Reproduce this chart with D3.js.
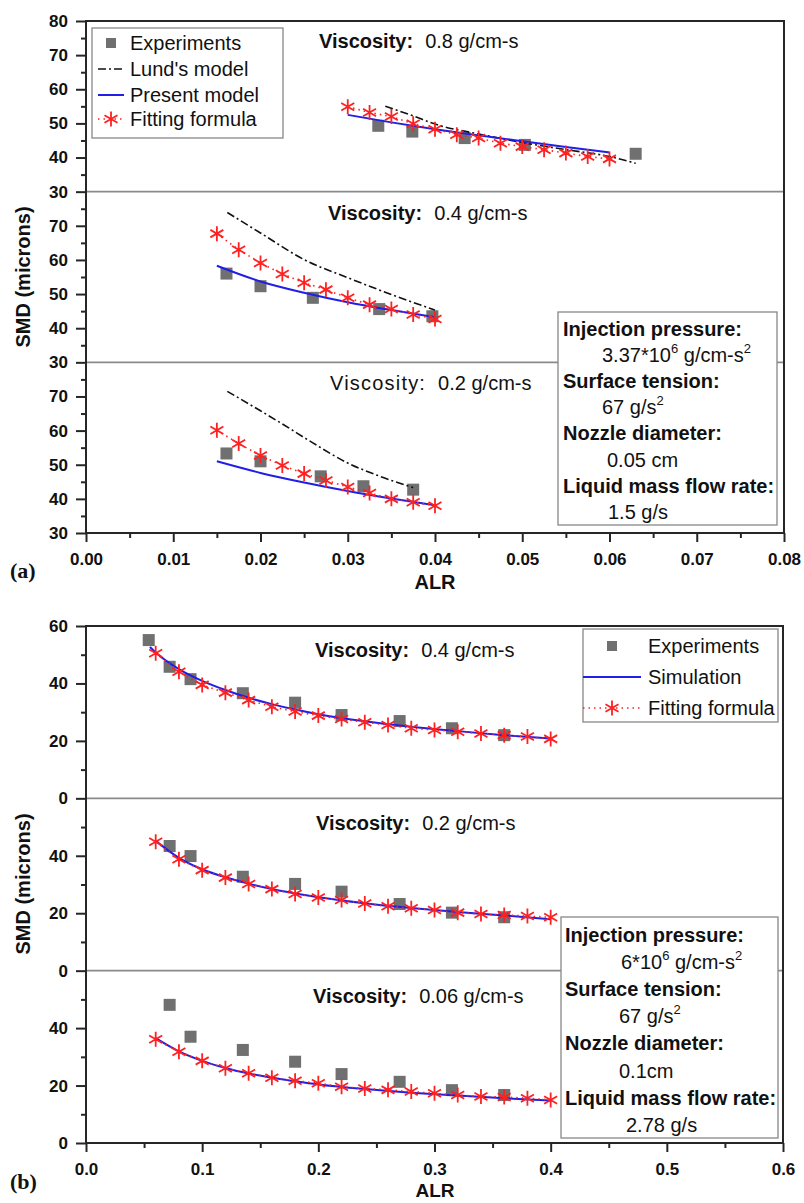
<!DOCTYPE html>
<html><head><meta charset="utf-8">
<script src="https://cdn.jsdelivr.net/npm/d3@7"></script>
<style>
body{margin:0;background:#fff}
svg{display:block;font-family:"Liberation Sans",Arial,Helvetica,sans-serif}
</style>
</head><body>
<svg id="c" width="804" height="1203"></svg>
<script>
// ---------------- DATA : panel (a) ----------------
const aXTicks = [0,0.01,0.02,0.03,0.04,0.05,0.06,0.07,0.08];
const aXMinor = [0.005,0.015,0.025,0.035,0.045,0.055,0.065,0.075];
const aYTicksTop = [30,40,50,60,70,80];
const aYTicks = [30,40,50,60,70];
const aYMinor = [35,45,55,65,75];
const aViscosity = ["0.8 g/cm-s","0.4 g/cm-s","0.2 g/cm-s"];

// viscosity 0.8
const a08ExpX = [0.0335,0.0374,0.0434,0.0503,0.063];
const a08ExpY = [49.3,47.6,45.7,43.7,41.1];
const a08LundX = [0.0343,0.0375,0.040,0.045,0.050,0.055,0.060,0.063];
const a08LundY = [55,52.2,49.8,46.9,44.4,42.3,40.3,38.3];
const a08ModelX = [0.030,0.035,0.040,0.045,0.050,0.055,0.060];
const a08ModelY = [52.5,50.3,48.3,46.5,44.8,43.1,41.5];
const a08FitX = [0.030,0.0325,0.035,0.0375,0.040,0.0425,0.045,0.0475,0.050,0.0525,0.055,0.0575,0.060];
const a08FitY = [54.9,53.2,52.0,49.9,48.3,46.7,45.7,44.2,43.2,42.3,41.3,40.3,39.6];
// viscosity 0.4
const a04ExpX = [0.0161,0.020,0.026,0.0336,0.0397];
const a04ExpY = [56.0,52.3,48.9,45.6,43.5];
const a04LundX = [0.0162,0.020,0.025,0.030,0.0356,0.040];
const a04LundY = [73.9,67.9,60.1,54.8,49.3,45.3];
const a04ModelX = [0.015,0.020,0.025,0.030,0.035,0.040];
const a04ModelY = [58.3,53.7,50.4,47.6,45.3,43.2];
const a04FitX = [0.015,0.0175,0.020,0.0225,0.025,0.0275,0.030,0.0325,0.035,0.0375,0.040];
const a04FitY = [67.7,63.0,59.1,55.9,53.3,51.3,48.9,46.9,45.6,44.0,42.7];
// viscosity 0.2
const a02ExpX = [0.0161,0.020,0.0269,0.0318,0.0375];
const a02ExpY = [53.3,51.0,46.6,43.7,42.7];
const a02LundX = [0.0162,0.020,0.0226,0.026,0.030,0.0337,0.0375];
const a02LundY = [71.5,65.8,61.8,56.4,50.5,46.6,43.3];
const a02ModelX = [0.015,0.020,0.025,0.030,0.035,0.040];
const a02ModelY = [51.0,47.6,44.8,42.3,40.1,38.1];
const a02FitX = [0.015,0.0175,0.020,0.0225,0.025,0.0275,0.030,0.0325,0.035,0.0375,0.040];
const a02FitY = [60.1,56.2,52.7,49.8,47.4,45.4,43.5,41.7,40.0,39.0,38.0];

// ---------------- DATA : panel (b) ----------------
const bXTicks = [0,0.1,0.2,0.3,0.4,0.5,0.6];
const bXMinor = [0.05,0.15,0.25,0.35,0.45,0.55];
const bYTicksTop = [0,20,40,60];
const bYTicks = [0,20,40];
const bYMinor = [10,30,50];
const bViscosity = ["0.4 g/cm-s","0.2 g/cm-s","0.06 g/cm-s"];

const b04ExpX = [0.054,0.072,0.09,0.135,0.18,0.22,0.27,0.315,0.36];
const b04ExpY = [55.1,45.8,41.5,36.6,33.3,29.0,26.9,24.4,22.0];
const b02ExpX = [0.072,0.09,0.135,0.18,0.22,0.27,0.315,0.36];
const b02ExpY = [43.4,39.9,32.7,30.2,27.5,23.2,20.2,18.6];
const b006ExpX = [0.072,0.09,0.135,0.18,0.22,0.27,0.315,0.36];
const b006ExpY = [48.1,37.0,32.4,28.3,24.0,21.3,18.4,16.7];

const bFitX = [0.06,0.08,0.10,0.12,0.14,0.16,0.18,0.20,0.22,0.24,0.26,0.28,0.30,0.32,0.34,0.36,0.38,0.40];
const b04FitY = [50.5,44.1,39.5,36.8,34.2,31.9,30.2,28.8,27.6,26.5,25.5,24.4,23.8,23.2,22.6,22.0,21.5,20.7];
const b02FitY = [44.9,38.8,35.0,32.4,30.2,28.4,26.7,25.5,24.6,23.4,22.4,21.7,21.1,20.2,19.7,19.4,19.0,18.6];
const b006FitY = [36.1,31.8,28.6,26.0,24.3,22.7,21.7,20.8,19.6,19.0,18.5,17.9,17.3,16.7,16.2,16.0,15.6,15.0];

const b04SimX = [0.055,0.06,0.08,0.10,0.12,0.14,0.16,0.18,0.20,0.24,0.28,0.32,0.36,0.40];
const b04SimY = [52.7,50.8,45.0,40.9,37.7,35.0,32.8,30.9,29.3,26.8,24.9,23.4,22.0,20.8];
const b02SimX = [0.06,0.08,0.10,0.12,0.14,0.16,0.18,0.20,0.24,0.28,0.32,0.36,0.40];
const b02SimY = [45.2,39.3,35.3,32.5,30.3,28.4,26.9,25.6,23.5,21.8,20.4,19.2,17.9];
const b006SimX = [0.06,0.08,0.10,0.12,0.14,0.16,0.18,0.20,0.24,0.28,0.32,0.36,0.40];
const b006SimY = [36.5,31.9,28.6,26.1,24.2,22.7,21.5,20.4,18.8,17.5,16.5,15.6,14.8];

// legend / info texts
const aLegend = ["Experiments","Lund's model","Present model","Fitting formula"];
const bLegend = ["Experiments","Simulation","Fitting formula"];
const infoLabels = ["Injection pressure:","Surface tension:","Nozzle diameter:","Liquid mass flow rate:"];
const aInfoValues = [["3.37*10","6"," g/cm-s","2"],["67 g/s","2"],["0.05 cm"],["1.5 g/s"]];
const bInfoValues = [["6*10","6"," g/cm-s","2"],["67 g/s","2"],["0.1cm"],["2.78 g/s"]];

// ---------------- DRAWING ----------------
const svg = d3.select('#c');
const C = {exp:'#707070', model:'#1f1fe6', fit:'#ff2020', lund:'#111', axis:'#262626', div:'#8a8a8a'};
const zip = (xs, ys) => xs.map((v,i)=>[v,ys[i]]);

function starPath(r){
  let p='';
  for(let k=0;k<3;k++){
    const a = Math.PI/2 + k*Math.PI/3;
    const dx = r*Math.cos(a), dy = r*Math.sin(a);
    p += `M${(-dx).toFixed(2)},${(-dy).toFixed(2)}L${dx.toFixed(2)},${dy.toFixed(2)}`;
  }
  return p;
}

function drawSeries(g, x, y, s){
  const line = d3.line().x(d=>x(d[0])).y(d=>y(d[1])).curve(d3.curveMonotoneX);
  g.selectAll(null).data(zip(s.expX, s.expY)).join('rect')
    .attr('x', d=>x(d[0])-6).attr('y', d=>y(d[1])-6).attr('width',12).attr('height',12)
    .attr('fill', C.exp);
  if(s.lundX){
    g.append('path').datum(zip(s.lundX, s.lundY)).attr('d', line)
      .attr('fill','none').attr('stroke',C.lund).attr('stroke-width',1.6)
      .attr('stroke-dasharray','8,3,2,3');
  }
  g.append('path').datum(zip(s.modelX, s.modelY)).attr('d', line)
    .attr('fill','none').attr('stroke',C.model).attr('stroke-width',2);
  g.append('path').datum(zip(s.fitX, s.fitY)).attr('d', d3.line().x(d=>x(d[0])).y(d=>y(d[1])))
    .attr('fill','none').attr('stroke',C.fit).attr('stroke-width',1.6)
    .attr('stroke-dasharray','1.5,4');
  g.selectAll(null).data(zip(s.fitX, s.fitY)).join('path')
    .attr('transform', d=>`translate(${x(d[0])},${y(d[1])})`)
    .attr('d', starPath(7.5)).attr('fill','none').attr('stroke',C.fit).attr('stroke-width',1.8);
}

function styleAxis(g, size){
  g.select('.domain').remove();
  g.selectAll('.tick line').attr('stroke',C.axis).attr('stroke-width',2);
  g.selectAll('.tick text').attr('font-family','"Liberation Sans",Arial,sans-serif')
    .attr('font-size',size).attr('font-weight','bold').attr('fill','#111');
}

function drawPanel(cfg){
  const {x, left, right, top, bottom, yDomain, subs, xTicks, xMinor, xFmt, yTop, yTicks, yMinor, tickPad} = cfg;
  const h = (bottom-top)/subs.length;
  const g = svg.append('g');
  const ys = subs.map((s,i)=> d3.scaleLinear().domain(yDomain).range([top+(i+1)*h, top+i*h]));
  for(let i=1;i<subs.length;i++){
    g.append('line').attr('x1',left).attr('x2',right).attr('y1',top+i*h).attr('y2',top+i*h)
      .attr('stroke',C.div).attr('stroke-width',1.6);
  }
  subs.forEach((s,i)=> drawSeries(g.append('g'), x, ys[i], s));
  subs.forEach((s,i)=>{
    const t = g.append('text').attr('x', s.lx).attr('y', s.ly).attr('font-size',20).attr('fill','#111');
    if(s.light){
      t.append('tspan').attr('letter-spacing',1.2).text('Viscosity:');
    } else {
      t.append('tspan').attr('font-weight','bold').text('Viscosity:');
    }
    t.append('tspan').attr('dx',12).text(s.visc);
  });
  ys.forEach((y,i)=>{
    const ax = g.append('g').attr('transform',`translate(${left},0)`)
      .call(d3.axisLeft(y).tickValues(i===0?yTop:yTicks).tickSize(10).tickPadding(8).tickFormat(d3.format('d')));
    styleAxis(ax, 17);
    const mi = g.append('g').attr('transform',`translate(${left},0)`)
      .call(d3.axisLeft(y).tickValues(yMinor).tickSize(5).tickFormat(''));
    styleAxis(mi, 17);
  });
  const xa = g.append('g').attr('transform',`translate(0,${bottom})`)
    .call(d3.axisBottom(x).tickValues(xTicks).tickSize(9).tickPadding(tickPad).tickFormat(d3.format(xFmt)));
  styleAxis(xa, 17);
  const xm = g.append('g').attr('transform',`translate(0,${bottom})`)
    .call(d3.axisBottom(x).tickValues(xMinor).tickSize(5).tickFormat(''));
  styleAxis(xm, 17);
  g.append('rect').attr('x',left).attr('y',top).attr('width',right-left).attr('height',bottom-top)
    .attr('fill','none').attr('stroke',C.axis).attr('stroke-width',2);
  return g;
}

function legendSymbol(g, kind, x0, x1, y){
  const cx = (x0+x1)/2;
  if(kind==='exp'){
    g.append('rect').attr('x',cx-5).attr('y',y-5).attr('width',10).attr('height',10).attr('fill',C.exp);
  } else if(kind==='lund'){
    g.append('line').attr('x1',x0).attr('x2',x1).attr('y1',y).attr('y2',y)
      .attr('stroke',C.lund).attr('stroke-width',1.6).attr('stroke-dasharray','8,3,2,3');
  } else if(kind==='model'){
    g.append('line').attr('x1',x0).attr('x2',x1).attr('y1',y).attr('y2',y)
      .attr('stroke',C.model).attr('stroke-width',2);
  } else {
    g.append('line').attr('x1',x0).attr('x2',x1).attr('y1',y).attr('y2',y)
      .attr('stroke',C.fit).attr('stroke-width',1.6).attr('stroke-dasharray','1.5,4');
    g.append('path').attr('transform',`translate(${cx},${y})`).attr('d',starPath(7.5))
      .attr('fill','none').attr('stroke',C.fit).attr('stroke-width',1.8);
  }
}

function drawLegend(box, items, kinds, textX, symX0, symX1, ys){
  const g = svg.append('g');
  g.append('rect').attr('x',box[0]).attr('y',box[1]).attr('width',box[2]-box[0]).attr('height',box[3]-box[1])
    .attr('fill','#fff').attr('stroke','#888').attr('stroke-width',1.3);
  items.forEach((t,i)=>{
    legendSymbol(g, kinds[i], symX0, symX1, ys[i]);
    g.append('text').attr('x',textX).attr('y',ys[i]+7).attr('font-size',20).attr('fill','#111').text(t);
  });
}

function drawInfo(box, labels, values, labelX, valueXs, y0, step){
  const g = svg.append('g');
  g.append('rect').attr('x',box[0]).attr('y',box[1]).attr('width',box[2]-box[0]).attr('height',box[3]-box[1])
    .attr('fill','#fff').attr('stroke','#888').attr('stroke-width',1.3);
  labels.forEach((lab,i)=>{
    g.append('text').attr('x',labelX).attr('y',y0+2*i*step).attr('font-size',20).attr('font-weight','bold')
      .attr('fill','#111').text(lab);
    const t = g.append('text').attr('x',valueXs[i]).attr('y',y0+(2*i+1)*step).attr('font-size',20).attr('fill','#111');
    values[i].forEach((seg,k)=>{
      const sp = t.append('tspan').text(seg);
      if(k%2===1){ sp.attr('font-size',13).attr('dy',-9); }
      else if(k>0){ sp.attr('dy',9); }
    });
  });
}

// ---------- panel (a) ----------
const xA = d3.scaleLinear().domain([0,0.08]).range([86,784]);
drawPanel({
  x:xA, left:86, right:784, top:21, bottom:533, yDomain:[30,80],
  xTicks:aXTicks, xMinor:aXMinor, xFmt:'.2f', yTop:aYTicksTop, yTicks:aYTicks, yMinor:aYMinor, tickPad:11,
  subs:[
    {expX:a08ExpX,expY:a08ExpY,lundX:a08LundX,lundY:a08LundY,modelX:a08ModelX,modelY:a08ModelY,fitX:a08FitX,fitY:a08FitY,visc:aViscosity[0],lx:319,ly:48},
    {expX:a04ExpX,expY:a04ExpY,lundX:a04LundX,lundY:a04LundY,modelX:a04ModelX,modelY:a04ModelY,fitX:a04FitX,fitY:a04FitY,visc:aViscosity[1],lx:328,ly:220},
    {expX:a02ExpX,expY:a02ExpY,lundX:a02LundX,lundY:a02LundY,modelX:a02ModelX,modelY:a02ModelY,fitX:a02FitX,fitY:a02FitY,visc:aViscosity[2],lx:330,ly:390,light:true}
  ]
});
drawLegend([92,28,283,138], aLegend, ['exp','lund','model','fit'], 130, 98, 124, [43,69,95,119]);
drawInfo([558,312,777,525], infoLabels, aInfoValues, 563, [602,602,607,608], 336, 26.1);

// ---------- panel (b) ----------
const xB = d3.scaleLinear().domain([0,0.6]).range([86,783]);
drawPanel({
  x:xB, left:86, right:783, top:626, bottom:1143, yDomain:[0,60],
  xTicks:bXTicks, xMinor:bXMinor, xFmt:'.1f', yTop:bYTicksTop, yTicks:bYTicks, yMinor:bYMinor, tickPad:11,
  subs:[
    {expX:b04ExpX,expY:b04ExpY,modelX:b04SimX,modelY:b04SimY,fitX:bFitX,fitY:b04FitY,visc:bViscosity[0],lx:315,ly:657},
    {expX:b02ExpX,expY:b02ExpY,modelX:b02SimX,modelY:b02SimY,fitX:bFitX,fitY:b02FitY,visc:bViscosity[1],lx:316,ly:830},
    {expX:b006ExpX,expY:b006ExpY,modelX:b006SimX,modelY:b006SimY,fitX:bFitX,fitY:b006FitY,visc:bViscosity[2],lx:313,ly:1003}
  ]
});
drawLegend([583,629,778,722], bLegend, ['exp','model','fit'], 648, 583, 641, [646,677,708]);
drawInfo([561,917,778,1138], infoLabels, bInfoValues, 565, [621,619,619,626], 942, 27.1);

// ---------- titles ----------
function bold(x,y,t,size,extra){
  const e = svg.append('text').attr('x',x).attr('y',y).attr('font-size',size).attr('font-weight','bold')
    .attr('fill','#111').text(t);
  if(extra) extra(e);
  return e;
}
bold(435,589,'ALR',20,e=>e.attr('text-anchor','middle'));
bold(435,1197,'ALR',19,e=>e.attr('text-anchor','middle'));
bold(0,0,'SMD (microns)',20,e=>e.attr('text-anchor','middle').attr('transform','translate(30,277) rotate(-90)'));
bold(0,0,'SMD (microns)',20,e=>e.attr('text-anchor','middle').attr('transform','translate(30,884) rotate(-90)'));
bold(10,578,'(a)',22,e=>e.attr('font-family','"Liberation Serif","Times New Roman",serif'));
bold(10,1189,'(b)',22,e=>e.attr('font-family','"Liberation Serif","Times New Roman",serif'));
</script>
</body></html>
